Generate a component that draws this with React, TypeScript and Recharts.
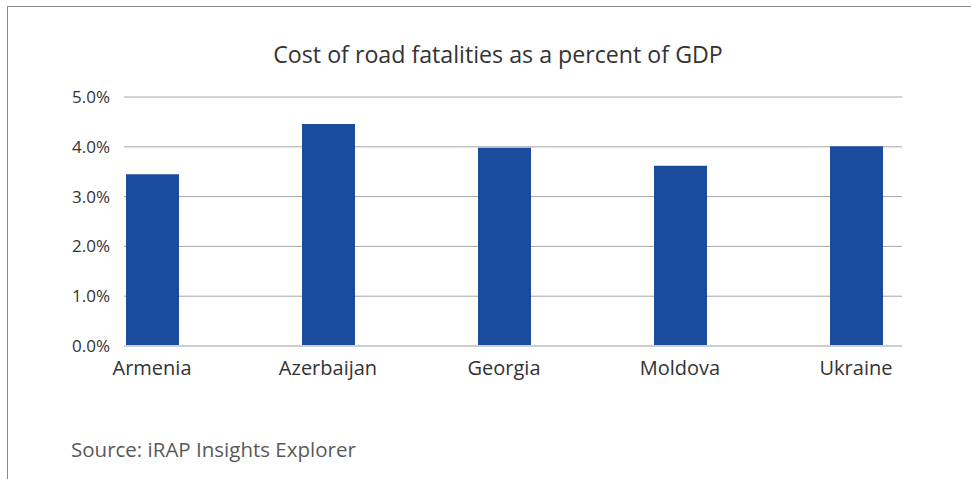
import { BarChart, Bar, XAxis, YAxis, CartesianGrid } from 'recharts'

const countries = ['Armenia', 'Azerbaijan', 'Georgia', 'Moldova', 'Ukraine']
const costPercent = [3.45, 4.46, 3.98, 3.62, 4.01]
const yTicks = [0, 1, 2, 3, 4, 5]

const data = countries.map((name, i) => ({ idx: i, name, value: costPercent[i] }))

const font = '"Open Sans", sans-serif'

export default function App() {
  return (
    <div style={{ position: 'absolute', left: 0, top: 0, width: 971, height: 479, fontFamily: font }}>
      <div
        style={{
          position: 'absolute',
          left: 7,
          top: 6,
          width: 964,
          height: 473,
          boxSizing: 'border-box',
          borderTop: '1px solid #8c8c8c',
          borderLeft: '1px solid #8c8c8c'
        }}
      />
      <div
        style={{
          position: 'absolute',
          left: 100,
          top: 43,
          width: 796,
          textAlign: 'center',
          fontSize: 23.2,
          lineHeight: '23px',
          color: '#333'
        }}
      >
        Cost of road fatalities as a percent of GDP
      </div>
      <div style={{ position: 'absolute', left: 0, top: 0 }}>
        <BarChart width={971} height={479} data={data} margin={{ top: 97, right: 69, left: 0, bottom: 93 }}>
          <CartesianGrid vertical={false} stroke="#a6a6a6" />
          <XAxis
            dataKey="idx"
            type="number"
            domain={[0, countries.length - 1]}
            ticks={countries.map((_, i) => i)}
            interval={0}
            padding={{ left: 28, right: 46 }}
            tickFormatter={(i: number) => countries[i]}
            tickLine={false}
            axisLine={{ stroke: '#cfcfcf', strokeWidth: 2 }}
            tick={{ fontSize: 20, fill: '#333' }}
            tickMargin={9}
            height={40}
          />
          <YAxis
            domain={[0, 5]}
            ticks={yTicks}
            tickFormatter={(v: number) => v.toFixed(1) + '%'}
            axisLine={false}
            tickLine={false}
            tick={{ fontSize: 17, fill: '#333' }}
            tickMargin={8}
            width={124}
          />
          <Bar dataKey="value" fill="#1a4b9c" barSize={53} isAnimationActive={false} />
        </BarChart>
      </div>
      <div
        style={{
          position: 'absolute',
          left: 71,
          top: 439,
          fontSize: 20.5,
          lineHeight: '20px',
          color: '#595959'
        }}
      >
        Source: iRAP Insights Explorer
      </div>
    </div>
  )
}
